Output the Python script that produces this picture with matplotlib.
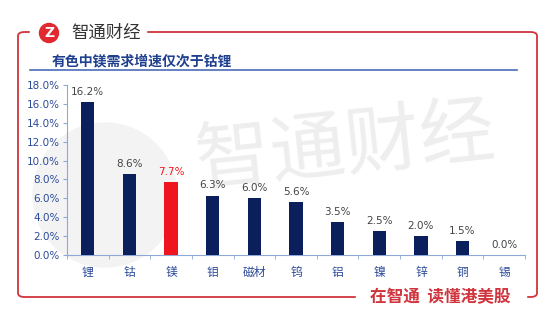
import matplotlib.pyplot as plt
from matplotlib.patches import FancyBboxPatch, Ellipse
import numpy as np

plt.rcParams['font.family'] = ['Noto Sans CJK SC', 'DejaVu Sans']

metals = ['锂', '钴', '镁', '钼', '磁材', '钨', '铝', '镍', '锌', '铜', '锡']
growth = [16.2, 8.6, 7.7, 6.3, 6.0, 5.6, 3.5, 2.5, 2.0, 1.5, 0.0]
highlight = '镁'
y_ticks = np.arange(0, 18.1, 2)

navy = '#0b1f5c'
red = '#f0141e'
frame_red = '#d0343c'
blue_txt = '#2c4a9a'
axis_blue = '#8fa8d8'

fig = plt.figure(figsize=(5.54, 3.26), dpi=100)
W, H = 554, 326

def fx(px):
    return px / W

def fy(py):
    return 1 - py / H

def circle(cx, cy, r, **kw):
    # round in pixels, whatever the figure aspect
    return Ellipse((fx(cx), fy(cy)), 2 * r / W, 2 * r / H,
                   transform=fig.transFigure, **kw)

# faint watermark behind the plot
fig.patches.append(circle(105, 195, 72, color='#f3f3f3', zorder=-2))
fig.text(fx(345), fy(148), '智通财经', color='#eeeeee', fontsize=54,
         ha='center', va='center', rotation=6, zorder=-1)

# red rounded frame
frame = FancyBboxPatch((fx(18), fy(297)), fx(537) - fx(18), fy(32) - fy(297),
                       boxstyle='round,pad=0,rounding_size=0.012',
                       transform=fig.transFigure, fill=False,
                       edgecolor=frame_red, linewidth=1.3)
fig.patches.append(frame)
# gaps in frame for logo and slogan
fig.patches.append(plt.Rectangle((fx(30), fy(42)), fx(116), fy(22) - fy(42),
                                 transform=fig.transFigure, color='white', zorder=2))
fig.patches.append(plt.Rectangle((fx(356), fy(306)), fx(170), fy(288) - fy(306),
                                 transform=fig.transFigure, color='white', zorder=2))

# logo
fig.patches.append(circle(49, 33, 9.5, color='#e02a2f', zorder=3))
fig.text(fx(49), fy(33), 'Z', color='white', fontsize=10, fontweight='bold',
         ha='center', va='center', zorder=4, family='DejaVu Sans')
fig.text(fx(71), fy(33), '智通财经', color='#333333', fontsize=12.5,
         ha='left', va='center', zorder=4)
fig.text(fx(440), fy(297), '在智通  读懂港美股', color=frame_red, fontsize=12,
         fontweight='bold', ha='center', va='center', zorder=4)

# title with underline
fig.text(fx(52), fy(61), '有色中镁需求增速仅次于钴锂', color='#1f3f8f',
         fontsize=10, fontweight='bold', ha='left', va='center')
fig.add_artist(plt.Line2D([fx(30), fx(517)], [fy(70), fy(70)],
                          transform=fig.transFigure, color='#4a6cb8', linewidth=1.2))

ax = fig.add_axes([fx(67), fy(255), fx(525) - fx(67), fy(85) - fy(255)])
ax.patch.set_alpha(0)
x = np.arange(len(metals))
colors = [red if m == highlight else navy for m in metals]
ax.bar(x, growth, width=0.32, color=colors, zorder=3)
for xi, v, m in zip(x, growth, metals):
    ax.text(xi, v + 0.55, f'{v:.1f}%', ha='center', va='bottom', fontsize=7.5,
            color=red if m == highlight else '#444444', family='DejaVu Sans')

ax.set_xlim(-0.5, len(metals) - 0.5)
ax.set_ylim(0, 18)
ax.set_yticks(y_ticks)
ax.set_yticklabels([f'{t:.1f}%' for t in y_ticks], color=blue_txt, fontsize=7.5,
                   family='DejaVu Sans')
ax.set_xticks(x)
ax.set_xticklabels(metals, color=blue_txt, fontsize=8.5)
ax.set_xticks(np.arange(-0.5, len(metals)), minor=True)
ax.tick_params(axis='x', which='major', length=0, pad=8)
ax.tick_params(axis='x', which='minor', length=3, color=axis_blue)
ax.tick_params(axis='y', length=3, color=axis_blue, pad=2)
for s in ['top', 'right']:
    ax.spines[s].set_visible(False)
ax.spines['left'].set_color(axis_blue)
ax.spines['bottom'].set_color(axis_blue)

fig.savefig('out.png', dpi=100)
